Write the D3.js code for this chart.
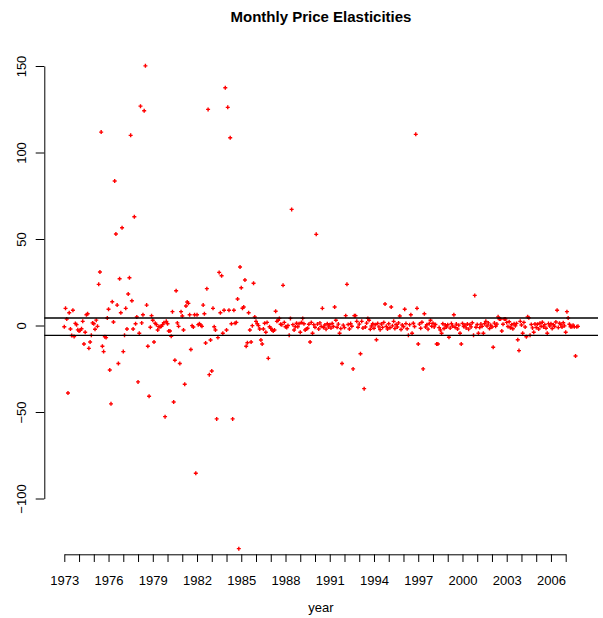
<!DOCTYPE html>
<html>
<head>
<meta charset="utf-8">
<script src="https://cdn.jsdelivr.net/npm/d3@7"></script>
<style>
  body { margin: 0; background: #fff; }
  svg text { font-family: "Liberation Sans", Arial, sans-serif; }
</style>
</head>
<body>
<div id="chart"></div>
<script>
// monthly elasticities, one row per year starting Jan 1973
const startYear = 1973;
const elasticities = [
  -0.7, 9.9, 3.8, -39.0, 7.4, -2.0, -5.8, 8.8, -6.4, 1.2, 0.5, -2.5,          // 1973
  -3.2, -2.8, -1.9, 2.4, -10.7, -3.9, 6.2, 6.8, -13.2, -9.5, -5.7, 1.5,       // 1974
  1.0, -2.2, 3.1, -0.5, 23.8, 30.9, 111.8, -12.0, -15.1, -6.5, -7.0, 4.3,     // 1975
  9.4, -25.7, -45.3, 13.7, 2.0, 83.5, 52.9, 11.8, -22.0, 27.0, 7.4, 56.5,     // 1976
  -15.1, -5.7, 9.9, -2.0, 18.2, 27.6, 109.9, 14.3, -2.0, 62.9, 1.0, 4.9,      // 1977
  -32.6, -4.5, 126.8, 1.5, 6.2, 124.1, 150.1, 11.8, -12.0, -40.9, -1.0, 5.7,  // 1978
  3.0, -9.5, 1.3, 0.5, -2.6, -0.7, -0.7, -0.5, 0.5, 1.6, -52.7, 2.4,          // 1979
  1.0, -3.2, -3.2, -6.2, 8.0, -44.2, -20.1, 20.1, 1.5, -0.5, -22.0, 8.0,      // 1980
  5.5, -2.6, -34.0, 11.3, 13.6, 12.8, 6.2, -13.9, -0.1, -0.9, 6.2, -85.4,     // 1981
  6.2, 0.5, 1.0, 0.2, -0.5, 11.8, 6.8, -10.1, 21.3, 124.9, -28.4, -8.4,       // 1982
  -26.3, 9.9, -0.7, -2.6, -54.0, -7.0, 30.7, 7.4, 28.8, -4.5, 8.8, 137.4,     // 1983
  -2.6, 126.1, 8.8, 108.5, 1.0, -54.0, 8.8, 1.3, 1.8, 15.3, -129.0, 33.8,     // 1984
  21.8, 10.0, 10.7, 26.3, -12.0, -10.0, 7.4, -2.6, -9.5, -0.1, 24.4, 4.9,     // 1985
  2.4, 1.0, -0.1, -2.0, -8.4, -10.7, -2.0, 1.3, -3.9, 1.8, -19.0, -0.7,       // 1986
  -1.6, -2.6, -3.2, -2.6, 8.2, 2.4, 3.0, 4.1, 0.7, 0.5, 23.2, 1.8,            // 1987
  -0.7, -1.2, 0.0, -5.7, 4.1, 67.1, 0.5, -2.6, -0.7, 1.3, -0.7, 1.0,          // 1988
  -3.9, 1.8, 4.1, 1.0, -2.6, -2.0, -1.6, 0.7, -9.5, 1.8, -4.5, 0.5,           // 1989
  -1.0, 52.7, 0.8, -2.0, 1.5, -0.5, 9.9, -1.2, 0.3, -2.1, 1.0, -0.8,          // 1990
  0.5, -1.5, 1.2, -0.6, 10.7, 3.0, -1.0, 0.8, -4.5, -1.8, -22.0, 0.2,         // 1991
  -1.2, 5.7, 23.8, 0.6, -2.0, 1.1, -0.4, -25.1, 5.7, 5.7, 2.4, -1.0,          // 1992
  0.8, -16.3, 2.4, -1.5, -36.5, -0.9, 1.4, 4.1, 3.0, -2.2, -0.3, 1.0,         // 1993
  -1.6, 0.4, -8.2, 1.2, -0.8, -2.4, 0.9, -1.1, 1.8, 12.4, -0.5, -2.0,         // 1994
  1.0, -1.3, 10.7, -0.2, 2.4, -1.8, 0.6, -0.9, 1.5, 5.5, -2.3, 0.3,           // 1995
  -0.7, 9.4, 1.1, -1.9, -5.7, 0.5, 6.2, -4.5, 1.3, -0.6, 110.5, 9.9,          // 1996
  -10.7, 0.8, -1.6, 1.9, -25.1, 6.8, -0.9, 0.4, -2.1, 1.2, 3.0, -0.4,         // 1997
  1.3, -0.8, 0.6, -10.7, -10.7, -1.2, -2.6, -4.5, 1.0, -1.7, 0.3, -0.9,       // 1998
  0.4, -6.8, -1.5, 1.1, -0.3, 6.2, -1.0, 0.8, -2.0, 0.2, -4.5, -10.7,         // 1999
  1.2, -0.6, 0.3, -1.4, 0.9, -2.1, 0.5, -0.8, 1.6, -5.7, 17.4, -1.0,          // 2000
  0.6, -4.5, -1.2, 0.8, -0.5, -4.5, 1.0, 2.4, -0.3, 1.5, -1.8, 0.2,           // 2001
  -0.9, -12.6, 1.4, -0.4, 0.8, 5.0, 3.8, 3.8, -3.2, 0.7, 3.8, 3.8,            // 2002
  1.8, -0.6, 2.2, -1.3, 0.4, -1.9, 1.0, -0.2, 1.2, -8.2, -14.5, 2.4,          // 2003
  0.3, -4.5, 1.8, -0.9, -6.5, 5.0, 4.5, -5.7, 0.6, -1.4, -3.9, 0.9,           // 2004
  -1.1, 0.7, -2.0, 1.3, -0.4, 1.9, -0.8, 0.5, -1.6, -4.5, 1.1, -0.3,          // 2005
  1.0, -1.7, 0.4, -0.6, 2.0, 8.8, -1.2, 1.3, 0.5, -0.9, 1.6, -0.2,            // 2006
  -3.9, 8.0, 4.3, 0.7, -0.7, -0.7, 0.2, -0.7, -17.6, -0.7, -0.5               // 2007
];

// reference band drawn as two horizontal lines
const bandLines = [4.3, -5.7];

const yTicks = [-100, -50, 0, 50, 100, 150];
const xTickYears = d3.range(1973, 2008);
const xLabelYears = [1973, 1976, 1979, 1982, 1985, 1988, 1991, 1994, 1997, 2000, 2003, 2006];

const width = 603;
const height = 618;
const plotLeft = 44.3, plotRight = 598;

const svg = d3.select("#chart").append("svg")
  .attr("width", width)
  .attr("height", height);

const x = d3.scaleLinear().domain([1973, 2007]).range([64.3, 565.7]);
const y = d3.scaleLinear().domain([-100, 150]).range([498.5, 66]);

const points = elasticities.map((v, i) => ({ t: startYear + i / 12, v: v }));

// title
svg.append("text")
  .attr("x", 321)
  .attr("y", 22)
  .attr("text-anchor", "middle")
  .attr("font-size", 15)
  .attr("font-weight", "bold")
  .text("Monthly Price Elasticities");

// x axis
const xAxis = svg.append("g")
  .attr("transform", "translate(0,554.3)")
  .call(d3.axisBottom(x)
    .tickValues(xTickYears)
    .tickSize(7.7)
    .tickSizeOuter(0)
    .tickFormat(d => xLabelYears.includes(d) ? String(d) : ""));

xAxis.select(".domain").attr("stroke", "#000");
xAxis.selectAll(".tick line").attr("stroke", "#000");
xAxis.selectAll(".tick text")
  .attr("y", 30.7)
  .attr("dy", 0)
  .attr("font-size", 13)
  .attr("font-family", "Liberation Sans, Arial, sans-serif")
  .attr("fill", "#000");

// y axis
const yAxis = svg.append("g")
  .attr("transform", "translate(" + plotLeft + ",0)")
  .call(d3.axisLeft(y)
    .tickValues(yTicks)
    .tickSize(8.6)
    .tickSizeOuter(0));

yAxis.select(".domain").attr("stroke", "#000");
yAxis.selectAll(".tick line").attr("stroke", "#000");
yAxis.selectAll(".tick text")
  .attr("x", null)
  .attr("dy", 0)
  .attr("text-anchor", "middle")
  .attr("transform", "translate(" + (25.5 - plotLeft) + ",0) rotate(-90)")
  .attr("font-size", 13)
  .attr("font-family", "Liberation Sans, Arial, sans-serif")
  .attr("fill", "#000");

// x axis title
svg.append("text")
  .attr("x", 321)
  .attr("y", 612)
  .attr("text-anchor", "middle")
  .attr("font-size", 13)
  .text("year");

// points as small red plus signs
svg.append("g")
  .selectAll("path")
  .data(points)
  .enter().append("path")
  .attr("transform", d => "translate(" + x(d.t) + "," + y(d.v) + ")")
  .attr("d", "M-2,0H2M0,-2V2")
  .attr("stroke", "#ff0000")
  .attr("stroke-width", 1.4)
  .attr("fill", "none");

// band lines
svg.append("g")
  .selectAll("line")
  .data(bandLines)
  .enter().append("line")
  .attr("x1", plotLeft)
  .attr("x2", plotRight)
  .attr("y1", d => y(d))
  .attr("y2", d => y(d))
  .attr("stroke", "#000")
  .attr("stroke-width", 1.4);
</script>
</body>
</html>
